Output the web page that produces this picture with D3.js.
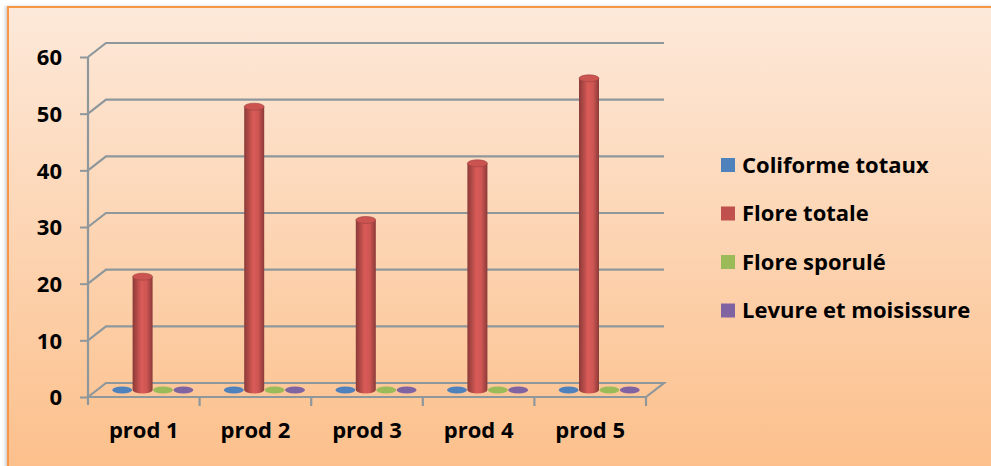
<!DOCTYPE html>
<html>
<head>
<meta charset="utf-8">
<script src="https://cdn.jsdelivr.net/npm/d3@7"></script>
<style>
  html, body { margin: 0; padding: 0; background: #ffffff; }
  svg { display: block; }
  text { font-family: "Open Sans", Lato, sans-serif; font-weight: 700; fill: #000; }
</style>
</head>
<body>
<svg id="chart" width="991" height="466"></svg>
<script>
// Data
const categories = ["prod 1", "prod 2", "prod 3", "prod 4", "prod 5"];
const seriesNames = ["Coliforme totaux", "Flore totale", "Flore sporulé", "Levure et moisissure"];
const coliformeTotaux = [0, 0, 0, 0, 0];
const floreTotale = [20, 50, 30, 40, 55];
const floreSporule = [0, 0, 0, 0, 0];
const levureMoisissure = [0, 0, 0, 0, 0];
const yTicks = [0, 10, 20, 30, 40, 50, 60];
const seriesColors = ["#4f81bd", "#c0504d", "#9bbb59", "#8064a2"];

const seriesValues = [coliformeTotaux, floreTotale, floreSporule, levureMoisissure];
const labelFont = "'Open Sans', Lato, sans-serif";

const svg = d3.select("#chart");
const defs = svg.append("defs");

// Panel background
const bg = defs.append("linearGradient").attr("id", "bgGrad")
  .attr("x1", 0).attr("y1", 0).attr("x2", 0).attr("y2", 1);
bg.append("stop").attr("offset", "0%").attr("stop-color", "#fde9da");
bg.append("stop").attr("offset", "100%").attr("stop-color", "#fcbe88");

const shadow = defs.append("filter").attr("id", "panelShadow")
  .attr("x", "-5%").attr("y", "-5%").attr("width", "110%").attr("height", "110%");
shadow.append("feDropShadow").attr("dx", -2).attr("dy", 0).attr("stdDeviation", 1.5)
  .attr("flood-color", "#000").attr("flood-opacity", 0.18);

svg.append("rect")
  .attr("x", 8).attr("y", 7).attr("width", 1000).attr("height", 480)
  .attr("fill", "url(#bgGrad)")
  .attr("stroke", "#f79646").attr("stroke-width", 2)
  .attr("filter", "url(#panelShadow)");

// 3D geometry: front plane and back plane offset by depth
const depthX = 18, depthY = -14;
const xFront = d3.scaleBand().domain(categories).range([88, 646]).padding(0);
const yFront = d3.scaleLinear().domain([0, 60]).range([397, 57]);
const yBack = v => yFront(v) + depthY;
const yMid = v => yFront(v) + depthY / 2;
const xSeries = d3.scaleBand().domain(d3.range(seriesNames.length))
  .range([15, xFront.bandwidth() - 15]).padding(0);

const gridColor = "#8d979c";
const grid = svg.append("g");

// Horizontal gridlines on the back wall with their diagonal on the side wall
yTicks.forEach(t => {
  if (t === 0) return;
  grid.append("path")
    .attr("d", `M${88},${yFront(t)} L${88 + depthX},${yBack(t)} L${646 + depthX},${yBack(t)}`)
    .attr("fill", "none").attr("stroke", gridColor).attr("stroke-width", 2.2);
});

// Floor outline
grid.append("path")
  .attr("d", `M88,${yFront(0)} L${88 + depthX},${yBack(0)} L${646 + depthX},${yBack(0)} L646,${yFront(0)} Z`)
  .attr("fill", "none").attr("stroke", gridColor).attr("stroke-width", 2.2);

// Vertical axis line and ticks
const axisG = svg.append("g");
const yAxis = d3.axisLeft(yFront).tickValues(yTicks).tickSize(8).tickPadding(18).tickFormat(d3.format("d"));
const yAx = axisG.append("g").attr("transform", "translate(88,0)").call(yAxis);
yAx.select(".domain").remove();
yAx.selectAll(".tick line").attr("stroke", gridColor).attr("stroke-width", 2);
yAx.selectAll(".tick text").attr("font-size", 22).attr("font-family", labelFont)
  .attr("font-weight", 700).attr("fill", "#000").attr("dy", "0.36em");
axisG.append("line").attr("x1", 88).attr("x2", 88).attr("y1", yFront(60)).attr("y2", yFront(0) + 8)
  .attr("stroke", gridColor).attr("stroke-width", 2.2);

// Category axis
const xAxis = d3.axisBottom(xFront).tickSize(0).tickPadding(25);
const xAx = axisG.append("g").attr("transform", `translate(0,${yFront(0)})`).call(xAxis);
xAx.select(".domain").remove();
xAx.selectAll(".tick text").attr("font-size", 22).attr("font-family", labelFont)
  .attr("font-weight", 700).attr("fill", "#000");
// category boundary ticks
const bounds = categories.map(c => xFront(c) + xFront.bandwidth());
axisG.selectAll(".cattick").data(bounds).enter().append("line")
  .attr("x1", d => d).attr("x2", d => d)
  .attr("y1", yFront(0)).attr("y2", yFront(0) + 9)
  .attr("stroke", gridColor).attr("stroke-width", 2.2);

// Cylinder gradients per series
seriesColors.forEach((c, i) => {
  const base = d3.color(c);
  const g = defs.append("linearGradient").attr("id", "cyl" + i)
    .attr("x1", 0).attr("y1", 0).attr("x2", 1).attr("y2", 0);
  g.append("stop").attr("offset", "0%").attr("stop-color", base.darker(0.9));
  g.append("stop").attr("offset", "45%").attr("stop-color", base.brighter(0.35));
  g.append("stop").attr("offset", "70%").attr("stop-color", base.brighter(0.2));
  g.append("stop").attr("offset", "100%").attr("stop-color", base.darker(0.9));
});

// Flatten into drawable records
const records = [];
categories.forEach((cat, ci) => {
  seriesValues.forEach((vals, si) => {
    records.push({ cat, si, value: vals[ci] });
  });
});

const rx = 10, ry = 3.5;
const bars = svg.append("g");
records.forEach(d => {
  const cx = xFront(d.cat) + depthX / 2 + xSeries(d.si) + xSeries.bandwidth() / 2;
  const yb = yMid(0);
  const yt = yMid(d.value);
  const g = bars.append("g");
  if (d.value > 0) {
    g.append("path")
      .attr("d", `M${cx - rx},${yt} L${cx - rx},${yb} A${rx},${ry} 0 0 0 ${cx + rx},${yb} L${cx + rx},${yt} Z`)
      .attr("fill", `url(#cyl${d.si})`);
    g.append("ellipse").attr("cx", cx).attr("cy", yt).attr("rx", rx).attr("ry", ry)
      .attr("fill", d3.color(seriesColors[d.si]).brighter(0.15))
      .attr("stroke", d3.color(seriesColors[d.si]).darker(0.6)).attr("stroke-width", 0.6);
  } else {
    g.append("ellipse").attr("cx", cx).attr("cy", yb).attr("rx", rx).attr("ry", ry)
      .attr("fill", seriesColors[d.si]);
  }
});

// Legend
const legend = svg.append("g").attr("transform", "translate(721,165)");
seriesNames.forEach((name, i) => {
  const row = legend.append("g").attr("transform", `translate(0,${i * 48.5})`);
  row.append("rect").attr("x", 0).attr("y", -7).attr("width", 14).attr("height", 14)
    .attr("fill", seriesColors[i]);
  row.append("text").attr("x", 21).attr("y", 0).attr("dy", "0.36em")
    .attr("font-size", 22).attr("font-family", labelFont).text(name);
});
</script>
</body>
</html>
